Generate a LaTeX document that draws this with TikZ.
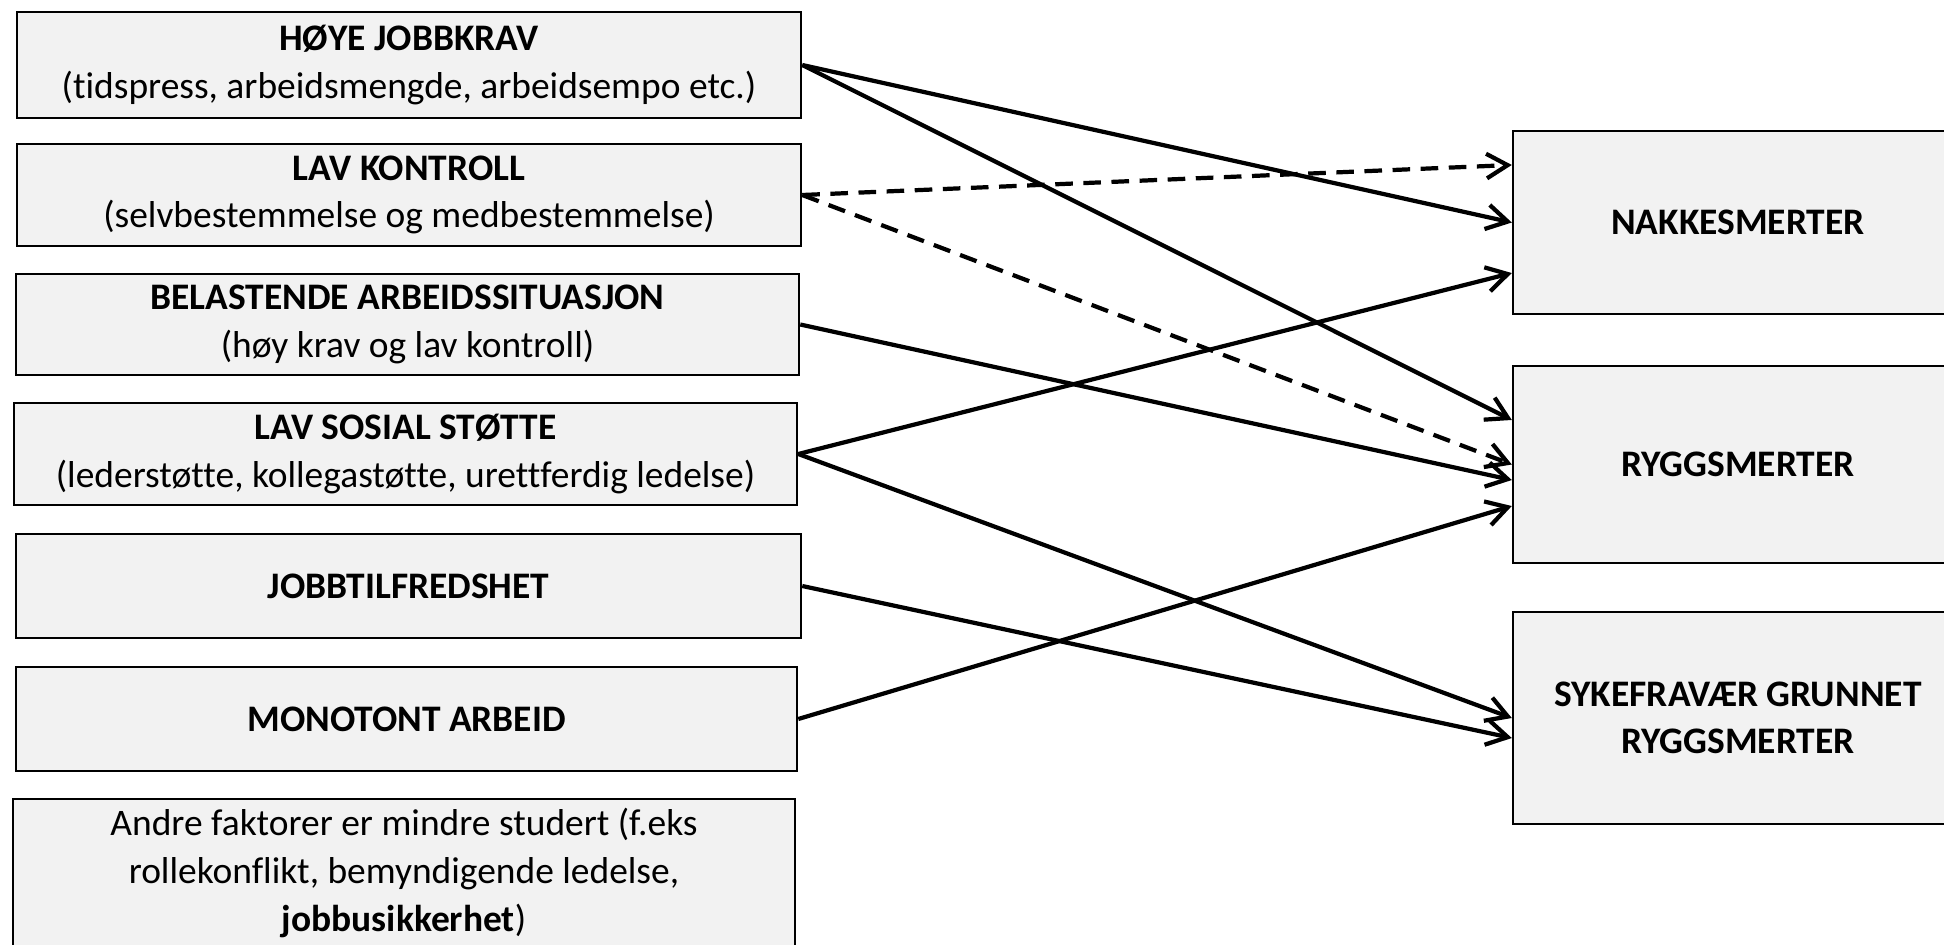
\documentclass[tikz,border=0pt]{standalone}
\usepackage{fontspec}
\setmainfont{Carlito}[Ligatures=NoCommon]
\usetikzlibrary{arrows.meta}

\begin{document}
\begin{tikzpicture}[x=0.01cm, y=-0.01cm,
    factor/.style={draw, line width=0.6pt, fill=boxgray, align=center, inner sep=0pt,
        font=\fontsize{10.65}{13.6}\selectfont},
    outcome/.style={factor, font=\fontsize{10.65}{13.4}\selectfont\bfseries},
    arr/.style={line width=1.2pt, -{Straight Barb[length=6pt, width=7pt]}},
    dashedarr/.style={arr, dash pattern=on 5pt off 3pt}]
    \definecolor{boxgray}{HTML}{F2F2F2}
    \useasboundingbox (0, 0) rectangle (1944, 945);
    \clip (0, 0) rectangle (1944, 945);

    % Arbeidsfaktorer
    \node[factor, minimum width=7.84cm, minimum height=1.06cm] (krav) at (409, 65)
        {\textbf{HØYE JOBBKRAV}\\(tidspress, arbeidsmengde, arbeidsempo etc.)};
    \node[factor, minimum width=7.84cm, minimum height=1.02cm] (kontroll) at (409, 195)
        {\textbf{LAV KONTROLL}\\(selvbestemmelse og medbestemmelse)};
    \node[factor, minimum width=7.83cm, minimum height=1.01cm] (belastning) at (407.5, 324.5)
        {\textbf{BELASTENDE ARBEIDSSITUASJON}\\(høy krav og lav kontroll)};
    \node[factor, minimum width=7.83cm, minimum height=1.02cm] (stotte) at (405.5, 454)
        {\textbf{LAV SOSIAL STØTTE}\\(lederstøtte, kollegastøtte, urettferdig ledelse)};
    \node[factor, minimum width=7.85cm, minimum height=1.04cm] (tilfreds) at (408.5, 586)
        {\textbf{JOBBTILFREDSHET}};
    \node[factor, minimum width=7.81cm, minimum height=1.04cm] (monoton) at (406.5, 719)
        {\textbf{MONOTONT ARBEID}};
    \node[factor, minimum width=7.82cm, minimum height=1.48cm] (andre) at (404, 873)
        {Andre faktorer er mindre studert (f.eks\\rollekonflikt, bemyndigende ledelse,\\\textbf{jobbusikkerhet})};

    % Utfall
    \node[outcome, minimum width=4.5cm, minimum height=1.83cm] (nakke) at (1738, 222.5) {NAKKESMERTER};
    \node[outcome, minimum width=4.5cm, minimum height=1.97cm] (rygg) at (1738, 464.5) {RYGGSMERTER};
    \node[outcome, minimum width=4.5cm, minimum height=2.12cm] (sykefravaer) at (1738, 718)
        {SYKEFRAVÆR GRUNNET\\RYGGSMERTER};

    % Sammenhenger
    \draw[arr] (krav.east) -- (nakke.west);
    \draw[arr] (krav.east) -- ([yshift=0.445cm]rygg.west);
    \draw[dashedarr] (kontroll.east) -- ([yshift=0.575cm]nakke.west);
    \draw[dashedarr] (kontroll.east) -- (rygg.west);
    \draw[arr] (belastning.east) -- ([yshift=-0.155cm]rygg.west);
    \draw[arr] (stotte.east) -- ([yshift=-0.505cm]nakke.west);
    \draw[arr] (stotte.east) -- (sykefravaer.west);
    \draw[arr] (tilfreds.east) -- ([yshift=-0.2cm]sykefravaer.west);
    \draw[arr] (monoton.east) -- ([yshift=-0.415cm]rygg.west);
\end{tikzpicture}
\end{document}
